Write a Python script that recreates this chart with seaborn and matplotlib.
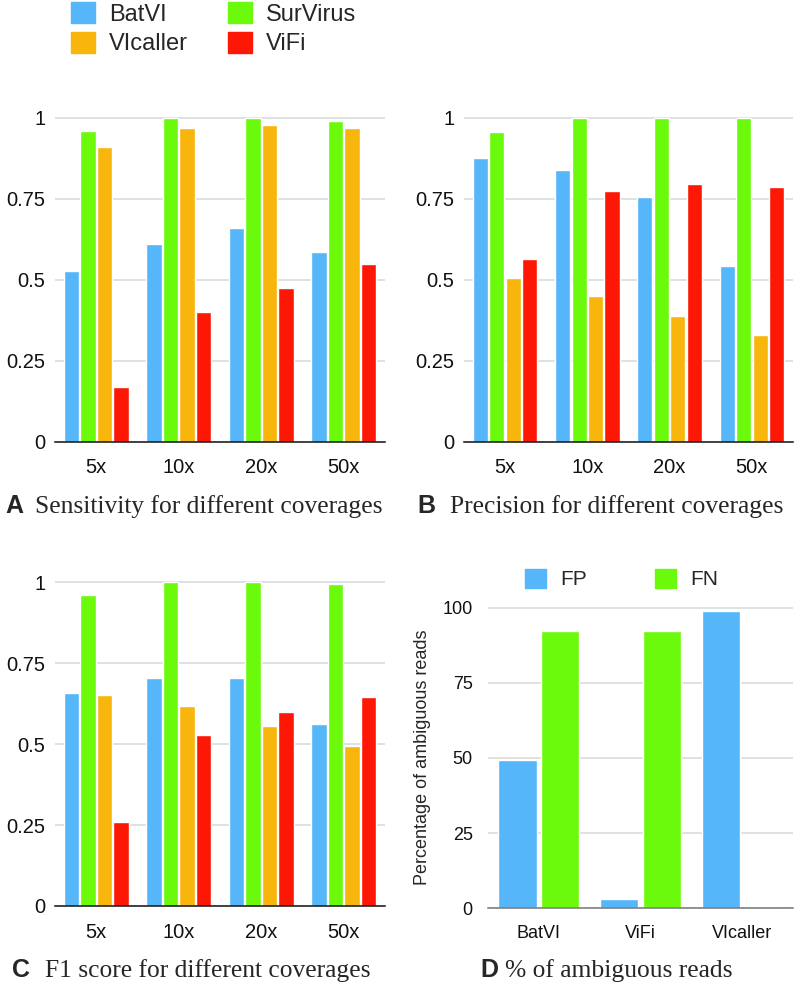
import numpy as np
import pandas as pd
import matplotlib.pyplot as plt
import seaborn as sns
from matplotlib.patches import Patch

tools = ["BatVI", "SurVirus", "VIcaller", "ViFi"]
coverages = ["5x", "10x", "20x", "50x"]
colors = ["#55B6FA", "#6CFA0C", "#F8B60C", "#FD1806"]

# rows follow `tools`, columns follow `coverages`
sensitivity = [
    [0.528, 0.610, 0.661, 0.586],
    [0.959, 1.000, 1.000, 0.990],
    [0.910, 0.968, 0.979, 0.968],
    [0.169, 0.400, 0.474, 0.549],
]
precision = [
    [0.877, 0.838, 0.757, 0.544],
    [0.957, 1.000, 1.000, 1.000],
    [0.506, 0.451, 0.388, 0.330],
    [0.565, 0.776, 0.795, 0.787],
]
f1_score = [
    [0.659, 0.705, 0.705, 0.563],
    [0.960, 1.000, 1.000, 0.995],
    [0.652, 0.619, 0.555, 0.493],
    [0.259, 0.527, 0.599, 0.647],
]

amb_tools = ["BatVI", "ViFi", "VIcaller"]
amb_fp = [49.2, 3.0, 99.0]
amb_fn = [92.2, 92.2, 0.0]

sns.set_style("white")
plt.rcParams["font.family"] = ["Liberation Sans", "DejaVu Sans"]


def to_long(values):
    rows = []
    for tool, vals in zip(tools, values):
        for cov, v in zip(coverages, vals):
            rows.append({"coverage": cov, "tool": tool, "value": v})
    return pd.DataFrame(rows)


def style_axis(ax, ticks, labels, ymax, spine_color, size):
    ax.set_ylim(0, ymax)
    ax.set_yticks(ticks)
    ax.set_yticklabels(labels)
    ax.yaxis.grid(True, color="#d6dadb", lw=1.1)
    ax.set_axisbelow(True)
    for s in ["left", "top", "right"]:
        ax.spines[s].set_visible(False)
    ax.spines["bottom"].set_color(spine_color)
    ax.spines["bottom"].set_linewidth(1.1)
    ax.tick_params(length=0, labelsize=size, pad=12, colors="#111111")
    ax.set_xlabel("")
    ax.set_ylabel("")


def bar_panel(ax, values):
    sns.barplot(data=to_long(values), x="coverage", y="value", hue="tool",
                hue_order=tools, palette=colors, saturation=1, width=0.8,
                gap=0.08, errorbar=None, legend=False, ax=ax)
    style_axis(ax, [0, 0.25, 0.5, 0.75, 1], ["0", "0.25", "0.5", "0.75", "1"],
               1.004, "#111111", 14.5)
    ax.tick_params(axis="y", pad=7)


fig = plt.figure(figsize=(7.96, 9.84), dpi=100)
ax_a = fig.add_axes([0.0691, 0.5511, 0.4146, 0.3303])
ax_b = fig.add_axes([0.5829, 0.5511, 0.4133, 0.3303])
ax_c = fig.add_axes([0.0691, 0.0793, 0.4146, 0.3303])
ax_d = fig.add_axes([0.6131, 0.0772, 0.3832, 0.3062])

bar_panel(ax_a, sensitivity)
bar_panel(ax_b, precision)
bar_panel(ax_c, f1_score)

amb = pd.DataFrame({
    "tool": amb_tools * 2,
    "kind": ["FP"] * 3 + ["FN"] * 3,
    "value": amb_fp + amb_fn,
})
sns.barplot(data=amb, x="tool", y="value", hue="kind", hue_order=["FP", "FN"],
            palette=[colors[0], colors[1]], saturation=1, width=0.84, gap=0.1,
            errorbar=None, legend=False, ax=ax_d)
style_axis(ax_d, [0, 25, 50, 75, 100], ["0", "25", "50", "75", "100"],
           100.4, "#777777", 13)
ax_d.tick_params(axis="y", pad=11)
ax_d.set_ylabel("Percentage of ambiguous reads", fontsize=13, labelpad=8)

# legends (column-major: BatVI/VIcaller, SurVirus/ViFi)
legend_order = ["BatVI", "VIcaller", "SurVirus", "ViFi"]
handles = [Patch(color=colors[tools.index(t)], label=t) for t in legend_order]
fig.legend(handles=handles, ncol=2, loc="upper left",
           bbox_to_anchor=(71 / 796, 1 - 2 / 984), frameon=False, fontsize=17,
           handlelength=1, handleheight=1, handletextpad=0.6, columnspacing=1.7,
           labelspacing=0.25, borderpad=0, borderaxespad=0)
fig.legend(handles=[Patch(color=colors[0], label="FP"), Patch(color=colors[1], label="FN")],
           ncol=2, loc="upper left", bbox_to_anchor=(525 / 796, 1 - 569 / 984),
           frameon=False, fontsize=15, handlelength=1, handleheight=1,
           handletextpad=0.67, columnspacing=3.3, borderpad=0, borderaxespad=0)

# panel captions
captions = [
    ("A", "Sensitivity for different coverages", 5, 35, 513),
    ("B", "Precision for different coverages", 417, 450, 513),
    ("C", "F1 score for different coverages", 12, 45, 977),
    ("D", "% of ambiguous reads", 480, 505, 977),
]
for letter, text, xl, xt, yb in captions:
    fig.text(xl / 796, 1 - yb / 984, letter, fontsize=18, fontweight="bold",
             va="baseline", ha="left")
    fig.text(xt / 796, 1 - yb / 984, text, fontsize=18.4, va="baseline", ha="left",
             family=["Liberation Serif", "DejaVu Serif"])

fig.savefig("out.png", dpi=100)
